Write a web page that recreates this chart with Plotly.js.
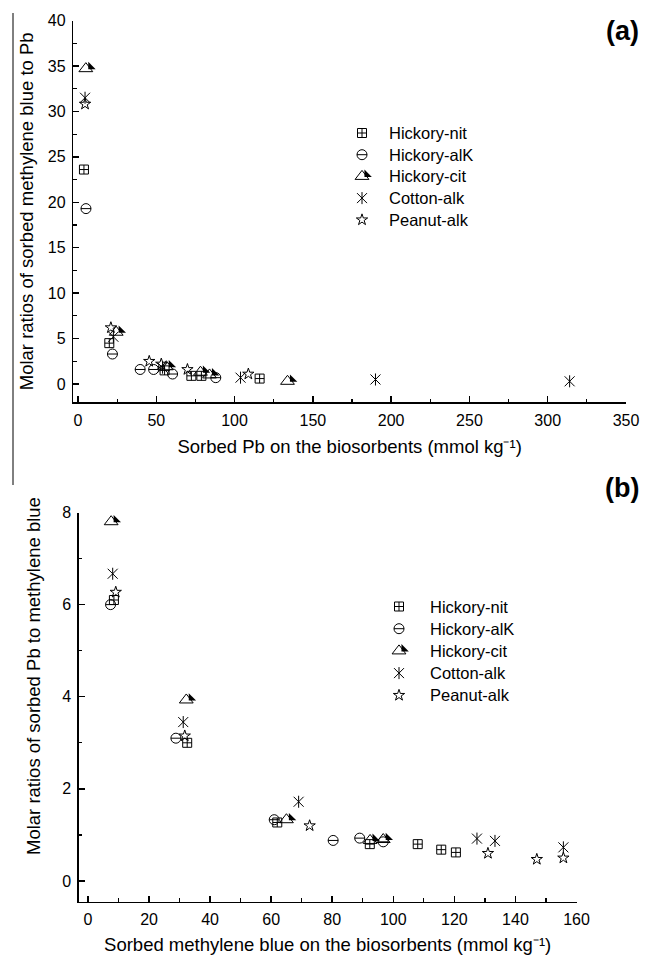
<!DOCTYPE html>
<html><head><meta charset="utf-8">
<script src="https://cdn.plot.ly/plotly-3.0.1.min.js"></script>
<style>html,body{margin:0;padding:0;background:#fff}#chart{width:659px;height:958px}</style>
</head><body><div id="chart"></div>
<script>
// ---------------- data ----------------
const seriesNames = ['Hickory-nit', 'Hickory-alK', 'Hickory-cit', 'Cotton-alk', 'Peanut-alk'];

// Panel (a): sorbed Pb (mmol/kg) vs molar ratio of sorbed methylene blue to Pb
const aNitX = [3.8, 20, 55.3, 72.4, 78.8, 116];
const aNitY = [23.6, 4.5, 1.5, 0.9, 0.9, 0.6];
const aAlkX = [5.1, 22, 39.7, 48.3, 60.4, 88];
const aAlkY = [19.3, 3.3, 1.6, 1.6, 1.1, 0.7];
const aCitX = [5, 24.4, 56.4, 78.2, 84, 133.8];
const aCitY = [34.7, 5.7, 1.9, 1.3, 1.0, 0.3];
const aCotX = [4.5, 22.6, 54, 103.8, 190, 314];
const aCotY = [31.5, 5.2, 1.8, 0.7, 0.5, 0.3];
const aPeaX = [4.5, 21, 45.5, 53.2, 69.9, 108.8];
const aPeaY = [30.8, 6.2, 2.5, 2.2, 1.6, 1.1];

// Panel (b): sorbed methylene blue (mmol/kg) vs molar ratio of sorbed Pb to methylene blue
const bNitX = [8.5, 32.5, 62, 92.3, 108, 115.7, 120.5];
const bNitY = [6.1, 3.0, 1.27, 0.8, 0.8, 0.68, 0.62];
const bAlkX = [7.4, 28.8, 61, 80.3, 89, 96.7];
const bAlkY = [6.0, 3.1, 1.33, 0.88, 0.93, 0.85];
const bCitX = [7.6, 32.2, 65, 92.4, 96.7];
const bCitY = [7.8, 3.93, 1.33, 0.88, 0.9];
const bCotX = [8.1, 31.2, 69, 127.4, 133.3, 155.7];
const bCotY = [6.67, 3.45, 1.72, 0.92, 0.87, 0.73];
const bPeaX = [9.1, 31.7, 72.6, 131, 147, 155.7];
const bPeaY = [6.27, 3.15, 1.2, 0.6, 0.47, 0.5];

// tick labels
const aXTicks = [0, 50, 100, 150, 200, 250, 300, 350];
const aYTicks = [0, 5, 10, 15, 20, 25, 30, 35, 40];
const bXTicks = [0, 20, 40, 60, 80, 100, 120, 140, 160];
const bYTicks = [0, 2, 4, 6, 8];

// ---------------- layout geometry (pixels) ----------------
const W = 659, H = 958;
const FONT = 'Liberation Sans, Arial, sans-serif';
const PA = {px0: 73.3, px1: 626, py0: 20.5, py1: 402.2, xr: [-3, 350], yr: [-2, 40], xminor: 25, yminor: 2.5};
const PB = {px0: 78.8, px1: 576.5, py0: 512.5, py1: 901.7, xr: [-3, 160], yr: [-0.45, 8], xminor: 10, yminor: 1};
const HALF_DX = 4.9, HALF_DY = 1.9;   // pixel offset of the filled half-triangle
function dom(p) { return {x: [p.px0 / W, p.px1 / W], y: [1 - p.py1 / H, 1 - p.py0 / H]}; }
function kx(p) { return (p.px1 - p.px0) / (p.xr[1] - p.xr[0]); }
function ky(p) { return (p.py1 - p.py0) / (p.yr[1] - p.yr[0]); }

const STYLES = [
  [{symbol: 'square-cross-open', size: 9}],
  [{symbol: 'circle-open', size: 10}, {symbol: 'line-ew-open', size: 7.2}],
  [{symbol: 'triangle-up-open', size: 12}, {symbol: 'triangle-sw', size: 8.2, fill: true, shifted: true}],
  [{symbol: 'x-thin-open', size: 10}, {symbol: 'line-ns-open', size: 8.6}],
  [{symbol: 'star-open', size: 8.5}]
];
function mk(st) {
  return st.fill
    ? {symbol: st.symbol, size: st.size, color: '#000', line: {width: 0}}
    : {symbol: st.symbol, size: st.size, color: '#000', line: {color: '#000', width: 1}};
}
function comps(x, y, si, xa, ya, xas, yas) {
  return STYLES[si].map(st => ({
    type: 'scatter', mode: 'markers', x: x, y: y,
    xaxis: st.shifted ? xas : xa, yaxis: st.shifted ? yas : ya,
    showlegend: false, hoverinfo: 'skip', cliponaxis: false, marker: mk(st)
  }));
}

const traces = [];
const aData = [[aNitX, aNitY], [aAlkX, aAlkY], [aCitX, aCitY], [aCotX, aCotY], [aPeaX, aPeaY]];
const bData = [[bNitX, bNitY], [bAlkX, bAlkY], [bCitX, bCitY], [bCotX, bCotY], [bPeaX, bPeaY]];
aData.forEach((d, i) => traces.push(...comps(d[0], d[1], i, 'x', 'y', 'x3', 'y3')));
bData.forEach((d, i) => traces.push(...comps(d[0], d[1], i, 'x2', 'y2', 'x4', 'y4')));

// legends (keys drawn on a pixel-unit helper axis)
const LEG = [
  {kx: 362, tx: 387, y0: 133, dy: 21.7},
  {kx: 399, tx: 428, y0: 606.5, dy: 22.2}
];
const annotations = [];
LEG.forEach(L => {
  seriesNames.forEach((nm, i) => {
    const yy = L.y0 + i * L.dy;
    STYLES[i].forEach(st => {
      traces.push({
        type: 'scatter', mode: 'markers', xaxis: 'x5', yaxis: 'y5',
        x: [L.kx + (st.shifted ? HALF_DX : 0)], y: [yy - (st.shifted ? HALF_DY : 0)],
        showlegend: false, hoverinfo: 'skip', cliponaxis: false, marker: mk(st)
      });
    });
    annotations.push({xref: 'paper', yref: 'paper', x: L.tx / W, y: 1 - yy / H, xanchor: 'left', yanchor: 'middle',
      text: nm, showarrow: false, font: {family: FONT, size: 16.5, color: '#000'}});
  });
});
annotations.push({xref: 'paper', yref: 'paper', x: 641 / W, y: 1 - 31 / H, xanchor: 'right', yanchor: 'middle',
  text: '(a)', showarrow: false, font: {family: FONT, size: 27, color: '#000', weight: 'bold'}});
annotations.push({xref: 'paper', yref: 'paper', x: 641 / W, y: 1 - 488 / H, xanchor: 'right', yanchor: 'middle',
  text: '(b)', showarrow: false, font: {family: FONT, size: 27, color: '#000', weight: 'bold'}});

const TITLE_FONT = {family: FONT, size: 18.5, color: '#000'};
annotations.push({xref: 'paper', yref: 'paper', x: 33 / W, y: 1 - 676 / H, xanchor: 'center', yanchor: 'middle',
  textangle: -90, text: 'Molar ratios of sorbed Pb to methylene blue', showarrow: false, font: TITLE_FONT});

function mainAxis(p, isX, tickvals, anchor, title, standoff) {
  const d = dom(p);
  const ax = {
    domain: isX ? d.x : d.y, range: isX ? p.xr : p.yr, anchor: anchor,
    automargin: false,
    showline: true, linecolor: '#000', linewidth: 1.5, mirror: false,
    showgrid: false, zeroline: false,
    ticks: 'inside', ticklen: 6, tickwidth: 1.5, tickcolor: '#000',
    tickmode: 'array', tickvals: tickvals, ticktext: tickvals.map(String),
    ticklabelstandoff: 3,
    tickfont: {family: FONT, size: 16, color: '#000'},
    minor: {ticks: 'inside', ticklen: 3.5, tickwidth: 1.2, tickcolor: '#000', dtick: isX ? p.xminor : p.yminor, tick0: 0, showgrid: false},
    fixedrange: true
  };
  if (title) ax.title = {text: title, font: TITLE_FONT, standoff: standoff};
  return ax;
}
function shiftAxis(p, isX, over) {
  const r = isX ? p.xr : p.yr;
  const s = isX ? HALF_DX / kx(p) : HALF_DY / ky(p);
  return {overlaying: over, range: [r[0] - s, r[1] - s], visible: false, showticklabels: false, fixedrange: true,
    showgrid: false, zeroline: false};
}

const layout = {
  width: W, height: H,
  margin: {l: 0, r: 0, t: 0, b: 0},
  paper_bgcolor: '#fff', plot_bgcolor: 'rgba(0,0,0,0)',
  showlegend: false,
  xaxis: mainAxis(PA, true, aXTicks, 'y', 'Sorbed Pb on the biosorbents (mmol kg\u207B\u00B9)', 12),
  yaxis: mainAxis(PA, false, aYTicks, 'x', 'Molar ratios of sorbed methylene blue to Pb', 9),
  xaxis2: mainAxis(PB, true, bXTicks, 'y2', 'Sorbed methylene blue on the biosorbents (mmol kg\u207B\u00B9)', 10),
  yaxis2: mainAxis(PB, false, bYTicks, 'x2', null, 0),
  xaxis3: shiftAxis(PA, true, 'x'),
  yaxis3: shiftAxis(PA, false, 'y'),
  xaxis4: shiftAxis(PB, true, 'x2'),
  yaxis4: shiftAxis(PB, false, 'y2'),
  xaxis5: {domain: [0, 1], range: [0, W], anchor: 'y5', visible: false, showticklabels: false, fixedrange: true},
  yaxis5: {domain: [0, 1], range: [H, 0], anchor: 'x5', visible: false, showticklabels: false, fixedrange: true},
  annotations: annotations,
  shapes: [{type: 'line', xref: 'paper', yref: 'paper', x0: 13 / W, x1: 13 / W, y0: 1 - 13 / H, y1: 1 - 485 / H,
    line: {color: '#000', width: 1}}]
};

Plotly.newPlot('chart', traces, layout, {displayModeBar: false, staticPlot: true});
</script>
</body></html>
